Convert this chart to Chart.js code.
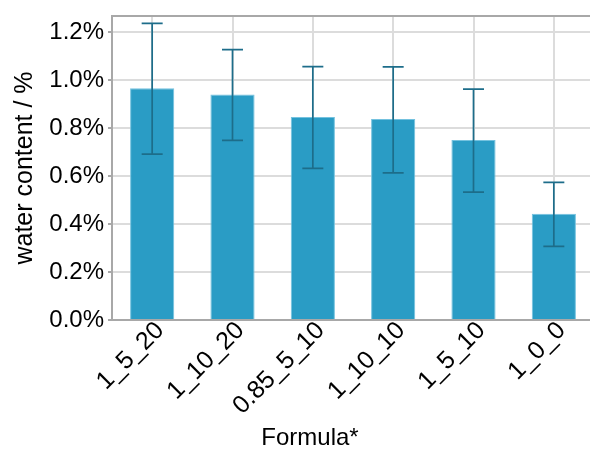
<!DOCTYPE html>
<html>
<head>
<meta charset="utf-8">
<script src="https://cdn.jsdelivr.net/npm/chart.js@4/dist/chart.umd.min.js"></script>
<style>
  html, body { margin: 0; padding: 0; background: #fff; overflow: hidden; }
  #wrap { position: relative; width: 590px; height: 452px; overflow: hidden; }
  #xTitle { position: absolute; left: 310px; top: 423px; transform: translateX(-50%);
            font: 24px "Liberation Sans", Arial, sans-serif; color: #000; white-space: nowrap; }
</style>
</head>
<body>
<div id="wrap">
  <canvas id="chart" width="600" height="452" style="width:600px;height:452px"></canvas>
  <div id="xTitle">Formula*</div>
</div>
<script>
// values (water content in %)
const formulas = ['1_5_20', '1_10_20', '0.85_5_10', '1_10_10', '1_5_10', '1_0_0'];
const waterContent = [0.966, 0.940, 0.846, 0.838, 0.750, 0.443];
const errorHigh = [1.236, 1.127, 1.056, 1.055, 0.962, 0.574];
const errorLow = [0.691, 0.749, 0.632, 0.613, 0.533, 0.307];
const yTicks = [0, 0.2, 0.4, 0.6, 0.8, 1.0, 1.2];

const font = { family: '"Liberation Sans", Arial, sans-serif', size: 24 };

// error bars drawn through the y scale
const errorBars = {
    id: 'errorBars',
    afterDatasetsDraw(chart) {
        const ctx = chart.ctx;
        const y = chart.scales.y;
        const meta = chart.getDatasetMeta(0);
        ctx.save();
        ctx.strokeStyle = '#1d6d8a';
        ctx.lineWidth = 1.7;
        meta.data.forEach((bar, i) => {
            const yHi = y.getPixelForValue(errorHigh[i]);
            const yLo = y.getPixelForValue(errorLow[i]);
            const cap = 10.5;
            ctx.beginPath();
            ctx.moveTo(bar.x, yHi); ctx.lineTo(bar.x, yLo);
            ctx.moveTo(bar.x - cap, yHi); ctx.lineTo(bar.x + cap, yHi);
            ctx.moveTo(bar.x - cap, yLo); ctx.lineTo(bar.x + cap, yLo);
            ctx.stroke();
        });
        ctx.restore();
    }
};

new Chart(document.getElementById('chart'), {
    type: 'bar',
    data: {
        labels: formulas,
        datasets: [{
            data: waterContent,
            backgroundColor: '#2a9cc5',
            borderColor: '#74c2df',
            borderWidth: 1,
            categoryPercentage: 1,
            barPercentage: 0.55
        }]
    },
    options: {
        responsive: false,
        animation: false,
        layout: { padding: { top: 15, right: 6, left: 0, bottom: 0 } },
        plugins: { legend: { display: false }, tooltip: { enabled: false } },
        scales: {
            x: {
                grid: { offset: false, color: '#dcdcdc', lineWidth: 2, drawTicks: false },
                border: { color: '#a8a8a8', width: 2 },
                ticks: {
                    color: '#000', font: { family: font.family, size: 25 },
                    maxRotation: 45, minRotation: 45, padding: -4, labelOffset: 8,
                    autoSkip: false
                },
                afterFit(scale) { scale.height = 132; }
            },
            xTop: {
                position: 'top',
                grid: { display: false, drawTicks: false },
                border: { color: '#a8a8a8', width: 2 },
                ticks: { display: false },
                afterFit(scale) { scale.height = 0; }
            },
            y: {
                min: 0,
                max: 1.267,
                grid: { color: '#dcdcdc', lineWidth: 2, tickLength: 4, tickColor: '#a8a8a8' },
                border: { color: '#a8a8a8', width: 2 },
                afterBuildTicks(scale) {
                    scale.ticks = yTicks.map(v => ({ value: v }));
                },
                ticks: {
                    color: '#000', font: { family: font.family, size: 24, lineHeight: 1 },
                    padding: 4,
                    callback: v => v.toFixed(1) + '%'
                },
                title: {
                    display: true, text: 'water content / %', color: '#000',
                    font: { family: font.family, size: 25 },
                    padding: { top: 10, bottom: 0 }
                },
                afterFit(scale) { scale.width = 112; }
            }
        }
    },
    plugins: [errorBars]
});
</script>
</body>
</html>
